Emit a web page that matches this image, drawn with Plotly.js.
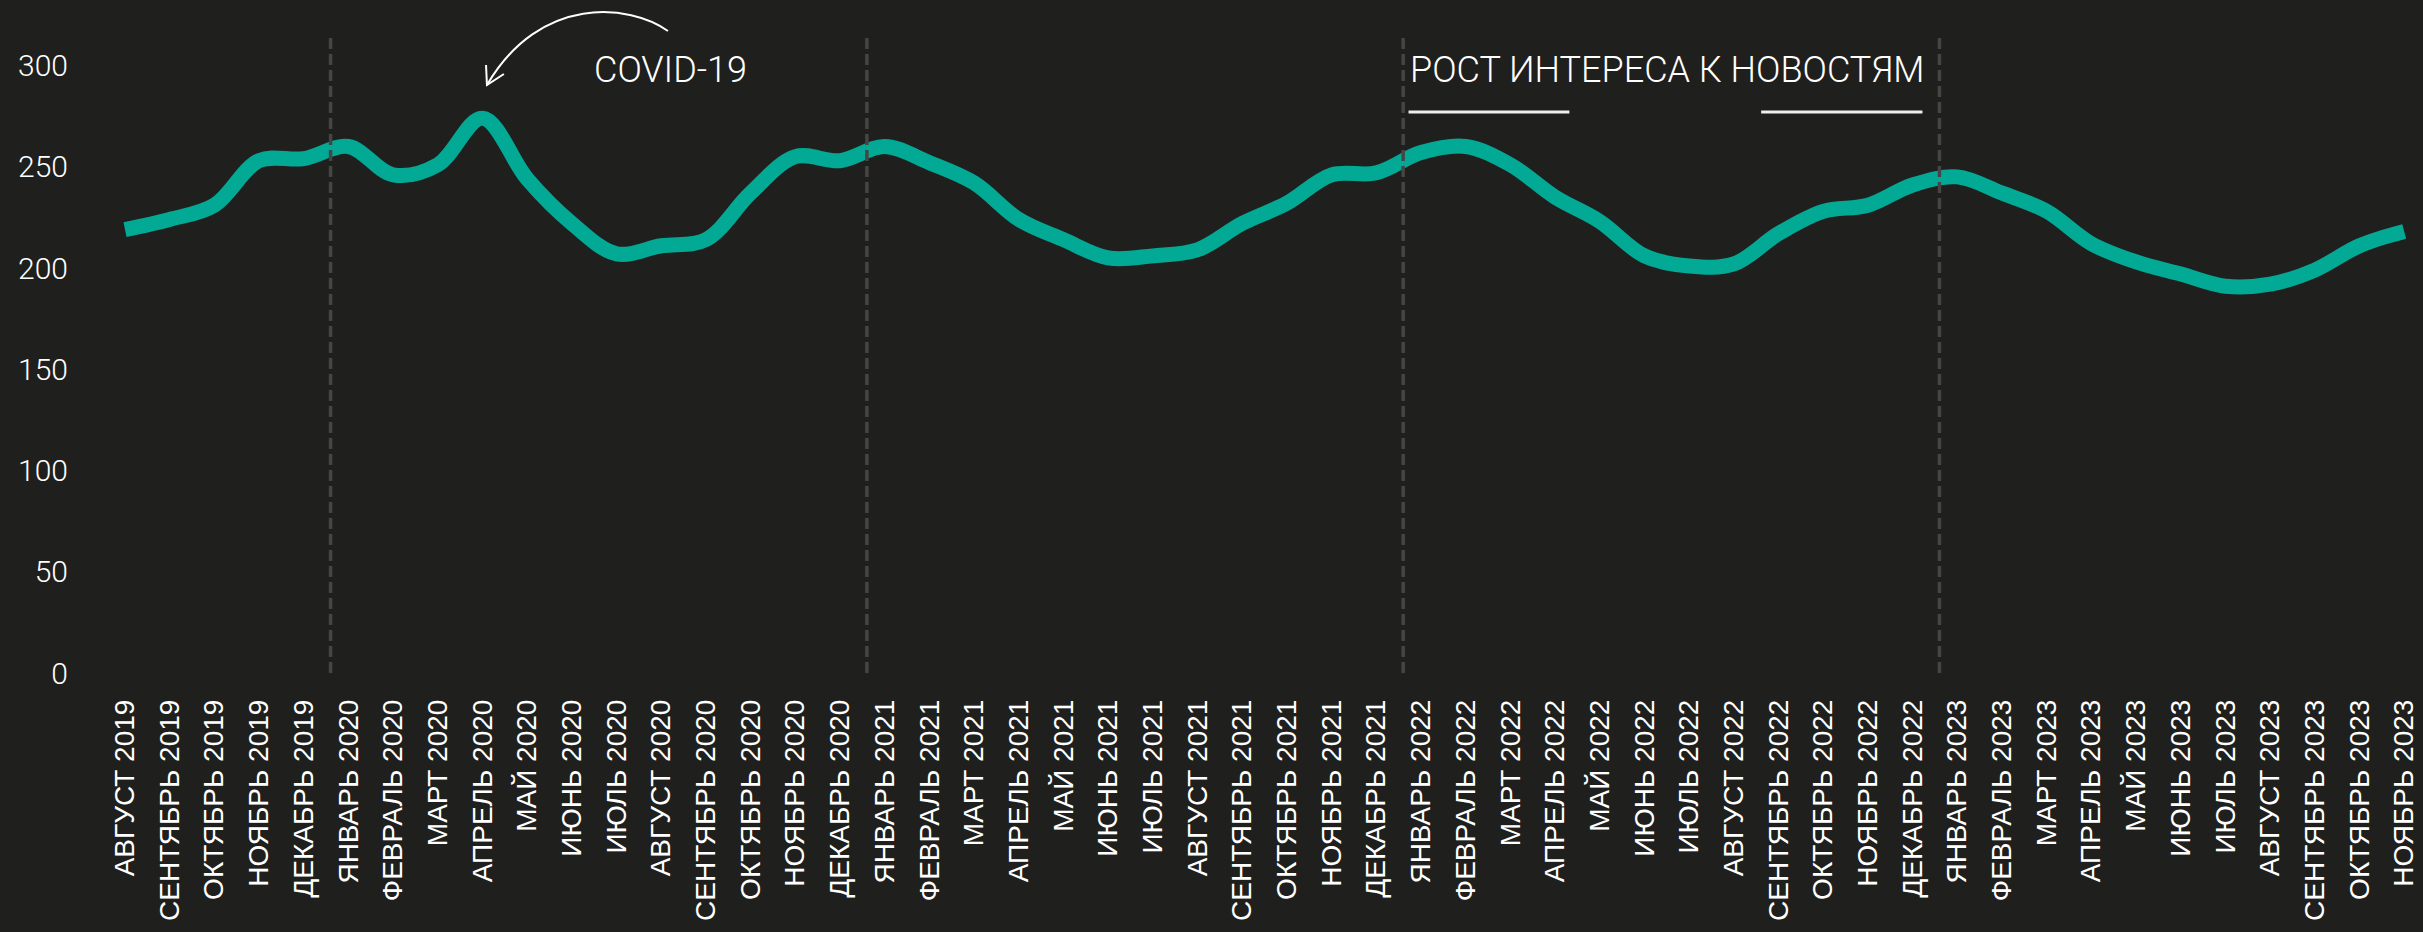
<!DOCTYPE html>
<html>
<head>
<meta charset="utf-8">
<script src="https://cdn.plot.ly/plotly-3.0.1.min.js"></script>
<style>
  html, body { margin: 0; padding: 0; background: #1f1f1d; }
  #plot { width: 2423px; height: 932px; }
</style>
</head>
<body>
<div id="plot"></div>
<script>
var months = ['АВГУСТ 2019', 'СЕНТЯБРЬ 2019', 'ОКТЯБРЬ 2019', 'НОЯБРЬ 2019', 'ДЕКАБРЬ 2019',
  'ЯНВАРЬ 2020', 'ФЕВРАЛЬ 2020', 'МАРТ 2020', 'АПРЕЛЬ 2020', 'МАЙ 2020', 'ИЮНЬ 2020',
  'ИЮЛЬ 2020', 'АВГУСТ 2020', 'СЕНТЯБРЬ 2020', 'ОКТЯБРЬ 2020', 'НОЯБРЬ 2020', 'ДЕКАБРЬ 2020',
  'ЯНВАРЬ 2021', 'ФЕВРАЛЬ 2021', 'МАРТ 2021', 'АПРЕЛЬ 2021', 'МАЙ 2021', 'ИЮНЬ 2021',
  'ИЮЛЬ 2021', 'АВГУСТ 2021', 'СЕНТЯБРЬ 2021', 'ОКТЯБРЬ 2021', 'НОЯБРЬ 2021', 'ДЕКАБРЬ 2021',
  'ЯНВАРЬ 2022', 'ФЕВРАЛЬ 2022', 'МАРТ 2022', 'АПРЕЛЬ 2022', 'МАЙ 2022', 'ИЮНЬ 2022',
  'ИЮЛЬ 2022', 'АВГУСТ 2022', 'СЕНТЯБРЬ 2022', 'ОКТЯБРЬ 2022', 'НОЯБРЬ 2022', 'ДЕКАБРЬ 2022',
  'ЯНВАРЬ 2023', 'ФЕВРАЛЬ 2023', 'МАРТ 2023', 'АПРЕЛЬ 2023', 'МАЙ 2023', 'ИЮНЬ 2023',
  'ИЮЛЬ 2023', 'АВГУСТ 2023', 'СЕНТЯБРЬ 2023', 'ОКТЯБРЬ 2023', 'НОЯБРЬ 2023'];

var values = [219, 224, 231, 253, 254, 260, 246, 251, 274, 244, 222, 207, 211, 214, 237, 255,
  253, 260, 252, 242, 224, 214, 205, 206, 209, 222, 232, 246, 247, 257, 260, 251, 235, 223,
  206, 201, 202, 217, 228, 231, 241, 245, 237, 228, 212, 203, 197, 191, 192, 199, 211, 218];

var yTicks = [0, 50, 100, 150, 200, 250, 300];

var covidLabel = 'COVID-19';
var newsLabel = 'РОСТ ИНТЕРЕСА К НОВОСТЯМ';

var bg = '#1f1f1d';
var teal = '#02a995';

// year breaks sit a bit before each January
var shapes = [];
months.forEach(function (m, i) {
  if (m.indexOf('ЯНВАРЬ') === 0) {
    shapes.push({
      type: 'line', xref: 'x', yref: 'y',
      x0: i - 0.4, x1: i - 0.4, y0: 0, y1: 315,
      line: {color: '#454545', width: 3.5, dash: '11px,5px'}
    });
  }
});

// underlines under the news annotation
[[28.72, 32.32], [36.61, 40.22]].forEach(function (seg) {
  shapes.push({
    type: 'line', xref: 'x', yref: 'y',
    x0: seg[0], x1: seg[1], y0: 277, y1: 277,
    line: {color: '#eeeeee', width: 3}
  });
});

// curved arrow pointing at the covid peak (paper coords from pixels)
var L = 103, T = 25, W = 2320, H = 648;
function px(x) { return ((x - L) / W).toFixed(4); }
function py(y) { return ((T + H - y) / H).toFixed(4); }
shapes.push({
  type: 'path', xref: 'paper', yref: 'paper',
  path: 'M ' + px(668) + ',' + py(31) + ' C ' + px(630) + ',' + py(4) + ' ' +
        px(540) + ',' + py(-6) + ' ' + px(487) + ',' + py(85),
  line: {color: '#ffffff', width: 2}
});
shapes.push({
  type: 'path', xref: 'paper', yref: 'paper',
  path: 'M ' + px(486) + ',' + py(65) + ' L ' + px(487) + ',' + py(85) + ' L ' + px(504) + ',' + py(74),
  line: {color: '#ffffff', width: 2}
});

var trace = {
  x: months,
  y: values,
  type: 'scatter',
  mode: 'lines',
  line: {color: teal, width: 15, shape: 'spline', smoothing: 1},
  hoverinfo: 'x+y'
};

var layout = {
  width: 2423,
  height: 932,
  paper_bgcolor: bg,
  plot_bgcolor: bg,
  showlegend: false,
  margin: {l: L, r: 0, t: T, b: 932 - T - H},
  xaxis: {
    type: 'category',
    range: [-0.492, 51.42],
    tickangle: -90,
    showgrid: false,
    zeroline: false,
    showline: false,
    ticks: '',
    ticklabelstandoff: 20,
    tickfont: {family: 'Liberation Sans, Arial, sans-serif', size: 28, color: '#ffffff'}
  },
  yaxis: {
    range: [0, 320],
    tickvals: yTicks,
    showgrid: false,
    zeroline: false,
    showline: false,
    ticks: '',
    ticklabelstandoff: 34,
    tickfont: {family: 'Roboto, sans-serif', size: 30, color: '#ffffff', weight: 300}
  },
  shapes: shapes,
  annotations: [
    {
      x: 10.45, y: 298, xref: 'x', yref: 'y', text: covidLabel, showarrow: false,
      xanchor: 'left', yanchor: 'middle',
      font: {family: 'Roboto, sans-serif', size: 36, color: '#ffffff', weight: 300}
    },
    {
      x: 28.7, y: 298, xref: 'x', yref: 'y', text: newsLabel, showarrow: false,
      xanchor: 'left', yanchor: 'middle',
      font: {family: 'Roboto, sans-serif', size: 36, color: '#ffffff', weight: 300}
    }
  ]
};

Plotly.newPlot('plot', [trace], layout, {displayModeBar: false, responsive: false});
</script>
</body>
</html>
